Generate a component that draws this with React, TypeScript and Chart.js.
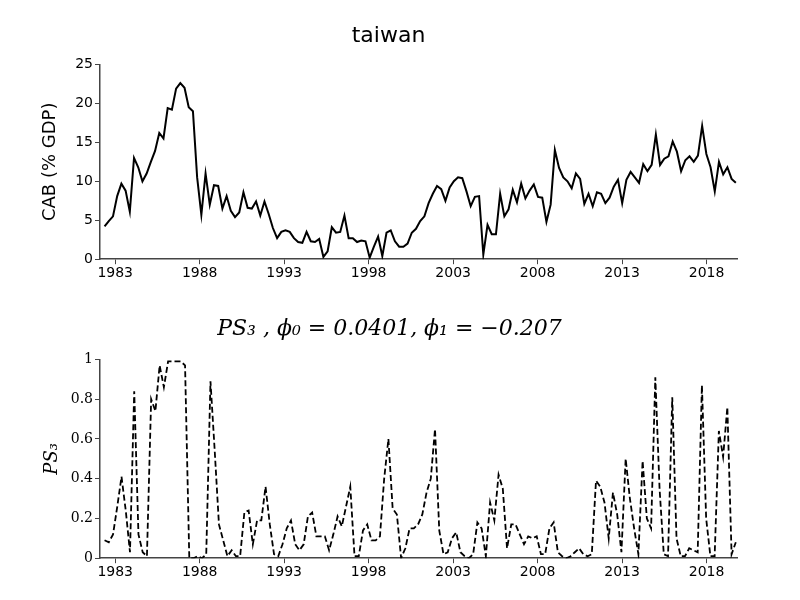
import React, { useEffect, useRef } from "react";
import { Chart, registerables } from "chart.js";
Chart.register(...registerables);

const startYear = 1982.37;
const endYear = 2019.73;
const tickYears = [1983, 1988, 1993, 1998, 2003, 2008, 2013, 2018];
const cabValues = [
  4.2, 4.9, 5.5, 8.1, 9.7, 8.8, 6.1, 13.0, 11.8, 10.0, 11.0, 12.5, 13.9, 16.2, 15.5, 19.4, 19.2, 21.9, 22.6, 22.0,
  19.5, 19.0, 10.5, 5.7, 11.0, 7.0, 9.5, 9.4, 6.5, 8.1, 6.2, 5.4, 6.0, 8.6, 6.6, 6.5, 7.4, 5.6, 7.4, 5.8,
  4.0, 2.7, 3.5, 3.7, 3.5, 2.7, 2.2, 2.1, 3.5, 2.3, 2.2, 2.6, 0.3, 1.0, 4.1, 3.4, 3.5, 5.6, 2.7, 2.7,
  2.2, 2.4, 2.3, 0.2, 1.6, 2.9, 0.4, 3.4, 3.7, 2.3, 1.6, 1.6, 2.0, 3.4, 3.9, 4.9, 5.5,
  7.2, 8.4, 9.4, 9.0, 7.5, 9.2, 10.0, 10.5, 10.4, 8.7, 6.8, 8.0, 8.1, 0.6, 4.4, 3.2, 3.2, 8.4, 5.5, 6.4,
  8.9, 7.3, 9.7, 7.8, 8.8, 9.6, 8.0, 7.9, 4.8, 7.0, 14.0, 11.7, 10.5, 10.0, 9.1, 11.0, 10.3, 7.1, 8.4, 6.8,
  8.6, 8.4, 7.2, 7.9, 9.3, 10.2, 7.2, 10.2, 11.2, 10.5, 9.8, 12.2, 11.3, 12.1, 16.0, 12.1, 12.9, 13.2, 15.1, 13.8,
  11.3, 12.7, 13.2, 12.5, 13.3, 17.1, 13.5, 11.8, 8.7, 12.5, 10.9, 11.8, 10.3, 9.8,
];
const probValues = [
  0.09, 0.08, 0.12, 0.26, 0.41, 0.24, 0.03, 0.84, 0.12, 0.03, 0.01, 0.80, 0.74, 0.97, 0.86, 0.99, 0.99, 0.99, 0.99, 0.97,
  0.0, 0.0, 0.01, 0.0, 0.02, 0.89, 0.54, 0.17, 0.09, 0.01, 0.04, 0.01, 0.01, 0.23, 0.24, 0.07, 0.19, 0.19, 0.36, 0.17,
  0.02, 0.01, 0.07, 0.15, 0.19, 0.07, 0.04, 0.07, 0.21, 0.23, 0.11, 0.11, 0.11, 0.04, 0.12, 0.21, 0.16, 0.26, 0.36, 0.01,
  0.01, 0.14, 0.17, 0.09, 0.09, 0.11, 0.40, 0.60, 0.25, 0.22, 0.0, 0.05, 0.15, 0.15, 0.17, 0.22,
  0.33, 0.40, 0.65, 0.14, 0.02, 0.03, 0.10, 0.13, 0.03, 0.01, 0.0, 0.02, 0.18, 0.15, 0.01, 0.28, 0.19, 0.42, 0.35, 0.05,
  0.17, 0.17, 0.12, 0.07, 0.11, 0.10, 0.11, 0.02, 0.02, 0.15, 0.18, 0.03, 0.01, 0.0, 0.01, 0.03, 0.05, 0.02, 0.01, 0.02,
  0.39, 0.36, 0.28, 0.10, 0.33, 0.22, 0.03, 0.50, 0.30, 0.15, 0.02, 0.49, 0.20, 0.15, 0.91, 0.35, 0.02, 0.01, 0.81, 0.10,
  0.01, 0.01, 0.05, 0.04, 0.03, 0.87, 0.20, 0.01, 0.01, 0.64, 0.51, 0.76, 0.02, 0.08,
];

function toPoints(vals: number[]) {
  const n = vals.length;
  return vals.map((v, i) => ({ x: startYear + (i * (endYear - startYear)) / (n - 1), y: v }));
}

function makeOptions(title: string, titleFont: any, titleGap: number, yLabel: string, yLabelFont: any, yMax: number, step: number,
  yTickFont: any, padTop: number, padBottom: number, padLeft: number) {
  return {
    animation: false,
    responsive: false,
    layout: { padding: { top: padTop, right: 63, bottom: padBottom, left: padLeft } },
    plugins: {
      legend: { display: false },
      tooltip: { enabled: false },
      title: { display: true, text: title, color: "#000", font: titleFont, padding: { top: 0, bottom: titleGap } },
    },
    scales: {
      x: {
        type: "linear",
        min: 1982.1,
        max: 2019.8,
        afterBuildTicks: (s: any) => { s.ticks = tickYears.map((v) => ({ value: v })); },
        grid: { drawOnChartArea: false, tickLength: 5, color: "#444" },
        border: { color: "#444", width: 1.5 },
        ticks: { color: "#000", font: { family: "DejaVu Sans", size: 14 }, maxRotation: 0, padding: 1, callback: (v: any) => String(v) },
      },
      y: {
        min: 0,
        max: yMax,
        afterFit: (s: any) => { s.width = 100 - padLeft; },
        grid: { drawOnChartArea: false, tickLength: 5, color: "#444" },
        border: { color: "#444", width: 1.5 },
        ticks: { stepSize: step, color: "#000", font: yTickFont, padding: 2, callback: (v: any) => String(Math.round(v * 10) / 10) },
        title: { display: true, text: yLabel, color: "#000", font: yLabelFont, padding: 0 },
      },
    },
  } as any;
}

export default function App() {
  const topRef = useRef<HTMLCanvasElement>(null);
  const botRef = useRef<HTMLCanvasElement>(null);
  useEffect(() => {
    const c1 = new Chart(topRef.current!, {
      type: "line",
      data: { datasets: [{ data: toPoints(cabValues), borderColor: "#000", borderWidth: 2, pointRadius: 0, tension: 0 }] },
      options: makeOptions("taiwan", { family: "DejaVu Sans", size: 22, weight: "normal" }, 15, "CAB (% GDP)",
        { family: "DejaVu Sans", size: 18 }, 25, 5, { family: "DejaVu Sans", size: 14 }, 23, 17, 40),
    });
    const c2 = new Chart(botRef.current!, {
      type: "line",
      data: { datasets: [{ data: toPoints(probValues), borderColor: "#000", borderWidth: 1.8, borderDash: [6, 3], pointRadius: 0, tension: 0 }] },
      options: makeOptions("PS₃ , ϕ₀ = 0.0401, ϕ₁ = −0.207", { family: "DejaVu Serif", size: 22, style: "italic", weight: "normal" }, 17, "PS₃",
        { family: "DejaVu Serif", size: 18, style: "italic" }, 1, 0.2, { family: "DejaVu Serif", size: 14 }, 16, 18, 42),
    });
    return () => { c1.destroy(); c2.destroy(); };
  }, []);
  return (
    <div style={{ position: "absolute", left: 0, top: 0, width: 800, height: 600, background: "#fff" }}>
      <canvas ref={topRef} width={800} height={300} style={{ display: "block" }} />
      <canvas ref={botRef} width={800} height={300} style={{ display: "block" }} />
    </div>
  );
}
